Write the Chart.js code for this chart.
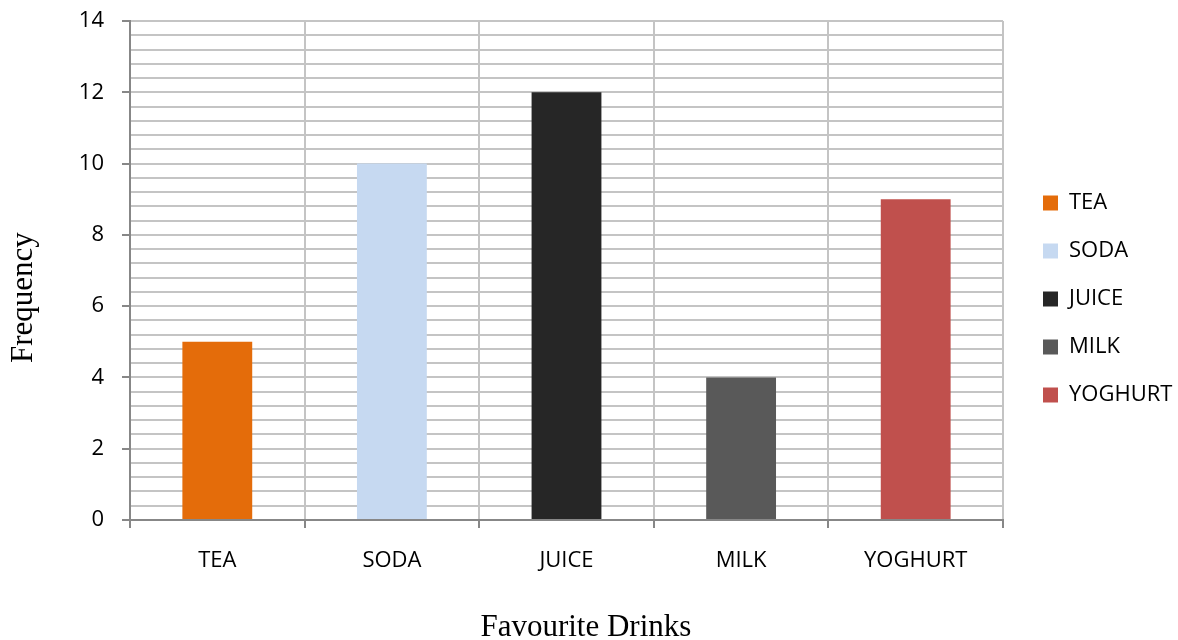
<!DOCTYPE html>
<html>
<head>
<meta charset="utf-8">
<script src="https://cdn.jsdelivr.net/npm/chart.js@4/dist/chart.umd.min.js"></script>
<style>
  html, body { margin: 0; padding: 0; background: #ffffff; }
  #wrap { width: 1178px; height: 640px; position: relative; }
</style>
</head>
<body>
<div id="wrap"><canvas id="c" width="1178" height="640"></canvas></div>
<script>
// ---- data ----
const categories = ['TEA', 'SODA', 'JUICE', 'MILK', 'YOGHURT'];
const frequency = [5, 10, 12, 4, 9];
const barColors = ['#E46C0A', '#C6D9F1', '#262626', '#595959', '#C0504D'];
const yMin = 0;
const yMax = 14;
const yMinorStep = 0.4;
const yLabelStep = 2;
const xTitle = 'Favourite Drinks';
const yTitle = 'Frequency';

const gridColor = '#c4c4c4';
const axisColor = '#878787';
const tickFont = { family: "'Open Sans', 'Noto Sans', sans-serif", size: 22 };

const legendPlace = {
  id: 'legendPlace',
  afterInit(chart) {
    const lg = chart.legend;
    const orig = lg.fit.bind(lg);
    lg.fit = function () { orig(); this.width = 175; };
  },
  afterLayout(chart) {
    const lg = chart.legend;
    lg.left = chart.chartArea.right + 14;
    lg.top = 78;
    lg.bottom = chart.chartArea.bottom;
    lg.height = lg.bottom - lg.top;
  }
};

Chart.defaults.font.family = tickFont.family;
Chart.defaults.color = '#000000';

new Chart(document.getElementById('c'), {
  type: 'bar',
  data: {
    labels: categories,
    datasets: [{
      label: yTitle,
      data: frequency,
      backgroundColor: barColors,
      borderWidth: 0,
      categoryPercentage: 1.0,
      barPercentage: 0.4
    }]
  },
  plugins: [legendPlace],
  options: {
    responsive: false,
    animation: false,
    events: [],
    layout: { padding: { top: 21, left: 0, right: 0, bottom: 0 } },
    plugins: {
      tooltip: { enabled: false },
      legend: {
        display: true,
        position: 'right',
        fullSize: false,
        labels: {
          boxWidth: 15,
          boxHeight: 15,
          padding: 26,
          color: '#000000',
          font: tickFont,
          generateLabels: () => categories.map((c, i) => ({
            text: c,
            fillStyle: barColors[i],
            strokeStyle: barColors[i],
            lineWidth: 0,
            hidden: false,
            index: i
          }))
        }
      }
    },
    scales: {
      x: {
        offset: true,
        afterFit: (s) => { s.height = 120; },
        grid: {
          display: true,
          offset: true,
          color: gridColor,
          lineWidth: 2,
          drawTicks: true,
          tickLength: 8,
          tickColor: axisColor,
          tickWidth: 2
        },
        border: { display: true, color: axisColor, width: 2 },
        ticks: { font: tickFont, color: '#000000', padding: 20, maxRotation: 0 },
        title: {
          display: true,
          text: '\u00a0\u00a0\u00a0\u00a0\u00a0' + xTitle,
          color: '#000000',
          font: { family: "'Liberation Serif', 'Times New Roman', serif", size: 31, lineHeight: 0.77 },
          padding: { top: 0, bottom: 0 }
        }
      },
      y: {
        min: yMin,
        max: yMax,
        afterFit: (s) => { s.width = 130; s.paddingTop = 0; s.paddingBottom = 0; },
        grid: {
          display: true,
          color: gridColor,
          lineWidth: 2,
          drawTicks: true,
          tickLength: 8,
          tickWidth: 2,
          tickColor: (ctx) => (ctx.tick && Math.abs(ctx.tick.value / yLabelStep - Math.round(ctx.tick.value / yLabelStep)) < 1e-6) ? axisColor : 'rgba(0,0,0,0)'
        },
        border: { display: true, color: axisColor, width: 2 },
        ticks: {
          stepSize: yMinorStep,
          autoSkip: false,
          font: tickFont,
          color: '#000000',
          padding: 18,
          callback: (v) => (Math.abs(v / yLabelStep - Math.round(v / yLabelStep)) < 1e-6) ? String(Math.round(v)) : ''
        },
        title: {
          display: true,
          text: yTitle + '\u00a0\u00a0\u00a0\u00a0\u00a0\u00a0\u00a0',
          color: '#000000',
          font: { family: "'Liberation Serif', 'Times New Roman', serif", size: 31, lineHeight: 1.2 },
          padding: { top: 5, bottom: 0 }
        }
      }
    }
  }
});
</script>
</body>
</html>
